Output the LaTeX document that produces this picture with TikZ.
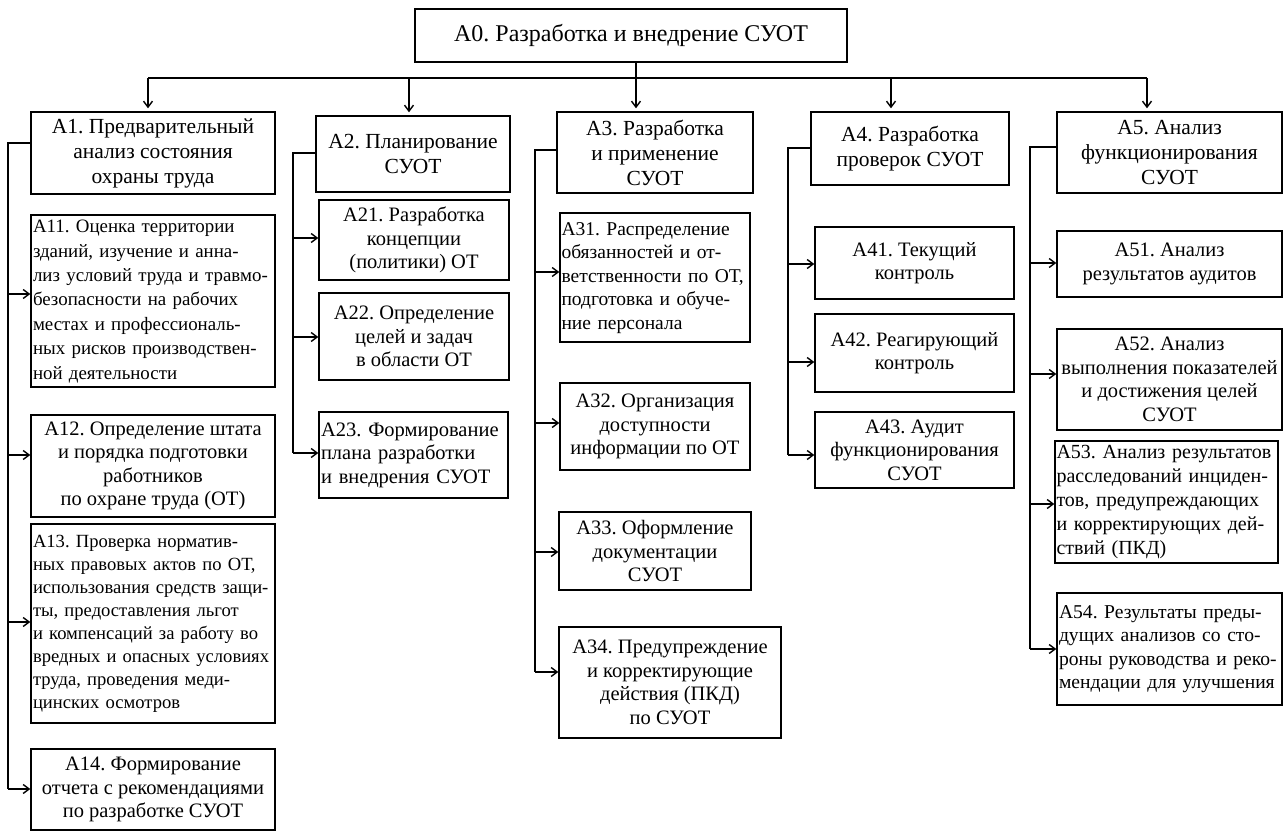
\documentclass[tikz,border=0pt]{standalone}
\usepackage{fontspec}
\setmainfont{Liberation Serif}
\usetikzlibrary{arrows.meta}
\newcommand\lefttext[1]{\begin{tabular}{@{}l@{}}#1\end{tabular}}
\begin{document}
\frenchspacing
\begin{tikzpicture}[x=1pt,y=-1pt,
  box/.style={draw, line width=1.4pt, inner sep=0pt, align=center, font=\fontsize{20.5}{23.5}\selectfont},
  top/.style={box, font=\fontsize{21.5}{25}\selectfont},
  lbox/.style={box, align=left, text width=#1},
  ln/.style={line width=1.4pt},
  arr/.style={line width=1.4pt, -{Straight Barb[length=6pt,width=9pt]}}]
\useasboundingbox (0,0) rectangle (1284,832);
% top
\node[box, minimum width=432pt, minimum height=53pt, font=\fontsize{24}{28}\selectfont] (a0) at (631,35.5) {А0. Разработка и внедрение СУОТ};
% column 1
\node[top, minimum width=244pt, minimum height=82pt] (a1) at (153,153) {А1. Предварительный\\анализ состояния\\охраны труда};
\node[lbox=240pt, minimum width=244pt, minimum height=172pt, font=\fontsize{18.9}{24.4}\selectfont] (a11) at (153,301) {\lefttext{А11. Оценка территории\\зданий, изучение и анна-\\лиз условий труда и травмо-\\безопасности на рабочих\\местах и профессиональ-\\ных рисков производствен-\\ной деятельности}};
\node[box, minimum width=244pt, minimum height=102pt] (a12) at (153,466) {А12. Определение штата\\и порядка подготовки\\работников\\по охране труда (ОТ)};
\node[lbox=240pt, minimum width=244pt, minimum height=199pt, font=\fontsize{18.6}{23}\selectfont] (a13) at (153,623.5) {\lefttext{А13. Проверка норматив-\\ных правовых актов по ОТ,\\использования средств защи-\\ты, предоставления льгот\\и компенсаций за работу во\\вредных и опасных условиях\\труда, проведения меди-\\цинских осмотров}};
\node[box, minimum width=244pt, minimum height=81pt] (a14) at (153,789.5) {А14. Формирование\\отчета с рекомендациями\\по разработке СУОТ};
% column 2
\node[top, minimum width=194pt, minimum height=76pt] (a2) at (413,154) {А2. Планирование\\СУОТ};
\node[box, minimum width=190pt, minimum height=80pt] (a21) at (414,240) {А21. Разработка\\концепции\\(политики) ОТ};
\node[box, minimum width=190pt, minimum height=87pt] (a22) at (414,336.5) {А22. Определение\\целей и задач\\в области ОТ};
\node[lbox=185pt, minimum width=189pt, minimum height=86pt] (a23) at (413.5,455) {\lefttext{А23. Формирование\\плана разработки\\и внедрения СУОТ}};
% column 3
\node[top, minimum width=196pt, minimum height=81pt] (a3) at (655,152.5) {А3. Разработка\\и применение\\СУОТ};
\node[lbox=187pt, minimum width=190pt, minimum height=129pt, font=\fontsize{19.5}{23.5}\selectfont] (a31) at (655,277.5) {\lefttext{А31. Распределение\\обязанностей и от-\\ветственности по ОТ,\\подготовка и обуче-\\ние персонала}};
\node[box, minimum width=190pt, minimum height=87pt] (a32) at (655,426.5) {А32. Организация\\доступности\\информации по ОТ};
\node[box, minimum width=192pt, minimum height=78pt] (a33) at (655,551) {А33. Оформление\\документации\\СУОТ};
\node[box, minimum width=222pt, minimum height=111pt] (a34) at (670,682.5) {А34. Предупреждение\\и корректирующие\\действия (ПКД)\\по СУОТ};
% column 4
\node[top, minimum width=198pt, minimum height=73pt] (a4) at (910,148.5) {А4. Разработка\\проверок СУОТ};
\node[box, minimum width=199pt, minimum height=72pt] (a41) at (914.5,263) {А41. Текущий\\контроль};
\node[box, minimum width=199pt, minimum height=78pt] (a42) at (914.5,353) {А42. Реагирующий\\контроль};
\node[box, minimum width=199pt, minimum height=76pt] (a43) at (914.5,450) {А43. Аудит\\функционирования\\СУОТ};
% column 5
\node[top, minimum width=225pt, minimum height=81pt] (a5) at (1169.5,152.5) {А5. Анализ\\функционирования\\СУОТ};
\node[box, minimum width=225pt, minimum height=66pt] (a51) at (1169.5,264) {А51. Анализ\\результатов аудитов};
\node[box, minimum width=225pt, minimum height=101pt] (a52) at (1169.5,379.5) {А52. Анализ\\выполнения показателей\\и достижения целей\\СУОТ};
\node[lbox=220pt, minimum width=223pt, minimum height=122pt, font=\fontsize{20}{24}\selectfont] (a53) at (1166.5,502) {\lefttext{А53. Анализ результатов\\расследований инциден-\\тов, предупреждающих\\и корректирующих дей-\\ствий (ПКД)}};
\node[lbox=221pt, minimum width=225pt, minimum height=112pt, font=\fontsize{19.6}{23.5}\selectfont] (a54) at (1169.5,649) {\lefttext{А54. Результаты преды-\\дущих анализов со сто-\\роны руководства и реко-\\мендации для улучшения}};
% bus
\coordinate (j1) at (148,78);
\coordinate (j2) at (409,78);
\coordinate (j3) at (636,78);
\coordinate (j4) at (891,78);
\coordinate (j5) at (1147,78);
\draw[ln] (j1) -- (j5);
\draw[ln] (a0.south -| j3) -- (j3);
\draw[arr] (j1) -- ([yshift=3pt]j1 |- a1.north);
\draw[arr] (j2) -- ([yshift=3pt]j2 |- a2.north);
\draw[arr] (j3) -- ([yshift=3pt]j3 |- a3.north);
\draw[arr] (j4) -- ([yshift=3pt]j4 |- a4.north);
\draw[arr] (j5) -- ([yshift=3pt]j5 |- a5.north);
% trunks
\coordinate (t1) at (8,143);
\coordinate (t2) at (293,153);
\coordinate (t3) at (535,150);
\coordinate (t4) at (788,148);
\coordinate (t5) at (1030,147);
\draw[ln] (a1.west |- t1) -- (t1) -- (t1 |- 0,789);
\draw[ln] (a2.west |- t2) -- (t2) -- (t2 |- 0,453);
\draw[ln] (a3.west |- t3) -- (t3) -- (t3 |- 0,672);
\draw[ln] (a4.west |- t4) -- (t4) -- (t4 |- 0,455);
\draw[ln] (a5.west |- t5) -- (t5) -- (t5 |- 0,649);
% branch arrows
\draw[arr] (t1 |- 0,294) -- (a11.west |- 0,294);
\draw[arr] (t1 |- 0,455) -- (a12.west |- 0,455);
\draw[arr] (t1 |- 0,622) -- (a13.west |- 0,622);
\draw[arr] (t1 |- 0,789) -- (a14.west |- 0,789);
\draw[arr] (t2 |- 0,238) -- (a21.west |- 0,238);
\draw[arr] (t2 |- 0,337) -- (a22.west |- 0,337);
\draw[arr] (t2 |- 0,453) -- (a23.west |- 0,453);
\draw[arr] (t3 |- 0,272) -- (a31.west |- 0,272);
\draw[arr] (t3 |- 0,423) -- (a32.west |- 0,423);
\draw[arr] (t3 |- 0,552) -- (a33.west |- 0,552);
\draw[arr] (t3 |- 0,672) -- (a34.west |- 0,672);
\draw[arr] (t4 |- 0,264) -- (a41.west |- 0,264);
\draw[arr] (t4 |- 0,362) -- (a42.west |- 0,362);
\draw[arr] (t4 |- 0,455) -- (a43.west |- 0,455);
\draw[arr] (t5 |- 0,263) -- (a51.west |- 0,263);
\draw[arr] (t5 |- 0,374) -- (a52.west |- 0,374);
\draw[arr] (t5 |- 0,504) -- (a53.west |- 0,504);
\draw[arr] (t5 |- 0,649) -- (a54.west |- 0,649);
\end{tikzpicture}
\end{document}
